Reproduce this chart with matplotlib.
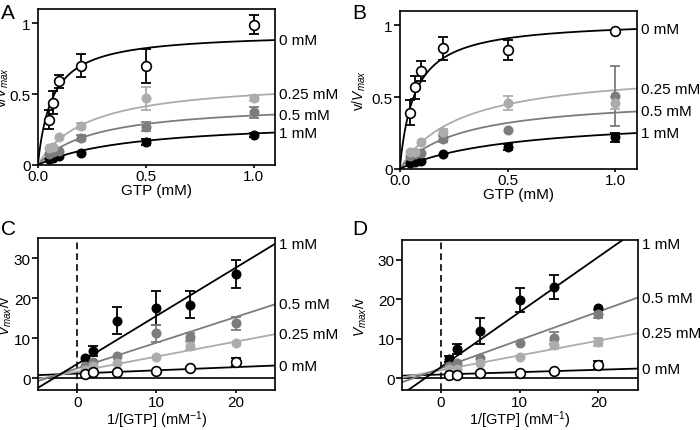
import matplotlib
matplotlib.use("Agg")
import matplotlib.pyplot as plt
import numpy as np

plt.rcParams['font.family'] = ['Liberation Sans', 'DejaVu Sans']
plt.rcParams['mathtext.fontset'] = 'custom'
plt.rcParams['mathtext.rm'] = 'Liberation Sans'
plt.rcParams['mathtext.it'] = 'Liberation Sans:italic'

# ---- data ----
inhibitor = ['0 mM', '0.25 mM', '0.5 mM', '1 mM']
gtp = [0.05, 0.07, 0.1, 0.2, 0.5, 1.0]
inv_gtp = [1, 2, 5, 10, 14.3, 20]

# panel A: v/Vmax
a_vals = [[0.32, 0.44, 0.59, 0.70, 0.70, 0.99],
          [0.12, 0.125, 0.20, 0.275, 0.47, 0.47],
          [0.08, 0.09, 0.10, 0.19, 0.27, 0.37],
          [0.04, 0.05, 0.065, 0.085, 0.163, 0.21]]
a_err = [[0.07, 0.08, 0.045, 0.08, 0.12, 0.07],
         [0, 0, 0, 0.02, 0.08, 0.02],
         [0, 0, 0, 0.02, 0.03, 0.04],
         [0, 0, 0, 0, 0.02, 0.015]]
a_km = [0.067, 0.233, 0.263, 0.437]
a_vm = [0.934, 0.606, 0.44, 0.319]

# panel B: v/Vmax
b_vals = [[0.39, 0.57, 0.68, 0.84, 0.83, 0.96],
          [0.12, 0.12, 0.19, 0.26, 0.46, 0.46],
          [0.09, 0.10, 0.11, 0.21, 0.27, 0.51],
          [0.04, 0.045, 0.055, 0.10, 0.15, 0.22]]
b_err = [[0.087, 0.08, 0.07, 0.08, 0.07, 0],
         [0, 0, 0, 0.02, 0.05, 0.04],
         [0, 0, 0, 0.02, 0, 0.21],
         [0, 0, 0, 0, 0.02, 0.03]]
b_km = [0.069, 0.281, 0.289, 0.526]
b_vm = [1.036, 0.703, 0.505, 0.369]

# panel C: Vmax/v
c_vals = [[1.2, 1.6, 1.6, 1.9, 2.7, 4.1],
          [2.2, 3.0, 3.9, 5.4, 8.1, 8.9],
          [3.2, 4.0, 5.7, 11.2, 10.3, 13.7],
          [5.1, 6.9, 14.4, 17.6, 18.4, 26.1]]
c_err = [[0, 0, 0, 0, 0, 1.0],
         [0, 0, 0, 0, 1.0, 0],
         [0, 0, 0, 2.0, 1.0, 1.7],
         [0, 1.3, 3.3, 4.3, 3.4, 3.5]]
c_slope = [0.08, 0.373, 0.64, 1.2]
c_icpt = [1.2, 1.7, 2.5, 3.6]

# panel D: Vmax/v
d_vals = [[1.0, 1.0, 1.3, 1.5, 1.9, 3.4],
          [2.5, 2.5, 3.9, 5.5, 8.5, 9.3],
          [3.1, 3.9, 5.1, 9.0, 10.2, 16.3],
          [4.9, 7.4, 12.0, 19.9, 23.2, 17.9]]
d_err = [[0, 0, 0, 0, 0, 1.0],
         [0, 0, 0, 0, 1.0, 1.0],
         [0, 0, 0, 0, 1.5, 1.0],
         [0.8, 1.2, 3.2, 3.0, 3.0, 0]]
d_slope = [0.06, 0.373, 0.713, 1.39]
d_icpt = [1.0, 2.1, 2.6, 2.9]

# ---- styles ----
colors = ['black', '#acacac', '#7c7c7c', 'black']
faces = ['white', '#acacac', '#7c7c7c', 'black']
msizes = [7, 6, 6, 6]
FS = 11

fig = plt.figure(figsize=(7, 4.31), dpi=100)
axA = fig.add_axes([0.054, 0.615, 0.339, 0.362])
axB = fig.add_axes([0.571, 0.606, 0.339, 0.366])
axC = fig.add_axes([0.054, 0.092, 0.339, 0.353])
axD = fig.add_axes([0.574, 0.092, 0.337, 0.349])


def draw_points(ax, x, vals, errs):
    x = np.asarray(x)
    # 1 mM first so the open circles end up on top
    for i in [3, 2, 1, 0]:
        v = np.asarray(vals[i])
        e = np.asarray(errs[i])
        m = e > 0
        if m.any():
            ax.errorbar(x[m], v[m], yerr=e[m], fmt='none', ecolor=colors[i],
                        elinewidth=1.3, capsize=3.5, capthick=1.3, zorder=3)
        ax.plot(x, v, 'o', ms=msizes[i], mfc=faces[i], mec=colors[i],
                mew=1.2, zorder=4, clip_on=False)


def style(ax):
    for s in ax.spines.values():
        s.set_linewidth(1.2)
    ax.tick_params(direction='out', width=1.2, labelsize=FS)
    ax.tick_params(axis='y', length=4, pad=1)
    ax.tick_params(axis='x', length=2, pad=1)


def mm_panel(ax, vals, errs, km, vm, lab_x):
    xs = np.linspace(0, 1.1, 300)
    for i in range(4):
        ys = vm[i] * xs / (km[i] + xs)
        ax.plot(xs, ys, color=colors[i], lw=1.3, zorder=2)
        ax.annotate(inhibitor[i], (1.1, ys[-1]), xytext=(3, 0),
                    textcoords='offset points', va='center', ha='left',
                    fontsize=FS, annotation_clip=False)
    draw_points(ax, gtp, vals, errs)
    ax.set_xlim(0, 1.1)
    ax.set_ylim(0, 1.1)
    ax.set_xticks([0, 0.5, 1.0])
    ax.set_xticklabels(['0.0', '0.5', '1.0'])
    ax.set_yticks([0, 0.5, 1])
    ax.set_yticklabels(['0', '0.5', '1'])
    ax.set_xlabel('GTP (mM)', fontsize=FS, labelpad=0)
    ax.set_ylabel(r'v/$V_{max}$', fontsize=10)
    ax.yaxis.set_label_coords(lab_x, 0.5)
    style(ax)


def lb_panel(ax, vals, errs, slope, icpt, lab_x):
    xs = np.array([-5, 25])
    ax.axhline(0, color='black', lw=1.2, zorder=1)
    ax.axvline(0, color='black', lw=1.2, ls=(0, (4, 2.5)), zorder=1)
    for i in range(4):
        ys = slope[i] * xs + icpt[i]
        ax.plot(xs, ys, color=colors[i], lw=1.3, zorder=2)
        ax.annotate(inhibitor[i], (25, min(ys[-1], 34)), xytext=(3, 0),
                    textcoords='offset points', va='center', ha='left',
                    fontsize=FS, annotation_clip=False)
    draw_points(ax, inv_gtp, vals, errs)
    ax.set_xlim(-5, 25)
    ax.set_ylim(-3, 35)
    ax.set_xticks([0, 10, 20])
    ax.set_yticks([0, 10, 20, 30])
    ax.set_xlabel(r'1/[GTP] (mM$^{\mathrm{-1}}$)', fontsize=10.5, labelpad=0)
    ax.set_ylabel(r'$V_{max}$/v', fontsize=10)
    ax.yaxis.set_label_coords(lab_x, 0.5)
    style(ax)


mm_panel(axA, a_vals, a_err, a_km, a_vm, -0.112)
mm_panel(axB, b_vals, b_err, b_km, b_vm, -0.135)
lb_panel(axC, c_vals, c_err, c_slope, c_icpt, -0.1)
lb_panel(axD, d_vals, d_err, d_slope, d_icpt, -0.14)

for lbl, x, y in [('A', 0.002, 0.99), ('B', 0.503, 0.99),
                  ('C', 0.002, 0.49), ('D', 0.503, 0.49)]:
    fig.text(x, y, lbl, fontsize=15, va='top', ha='left')

fig.savefig('out.png', dpi=100)
